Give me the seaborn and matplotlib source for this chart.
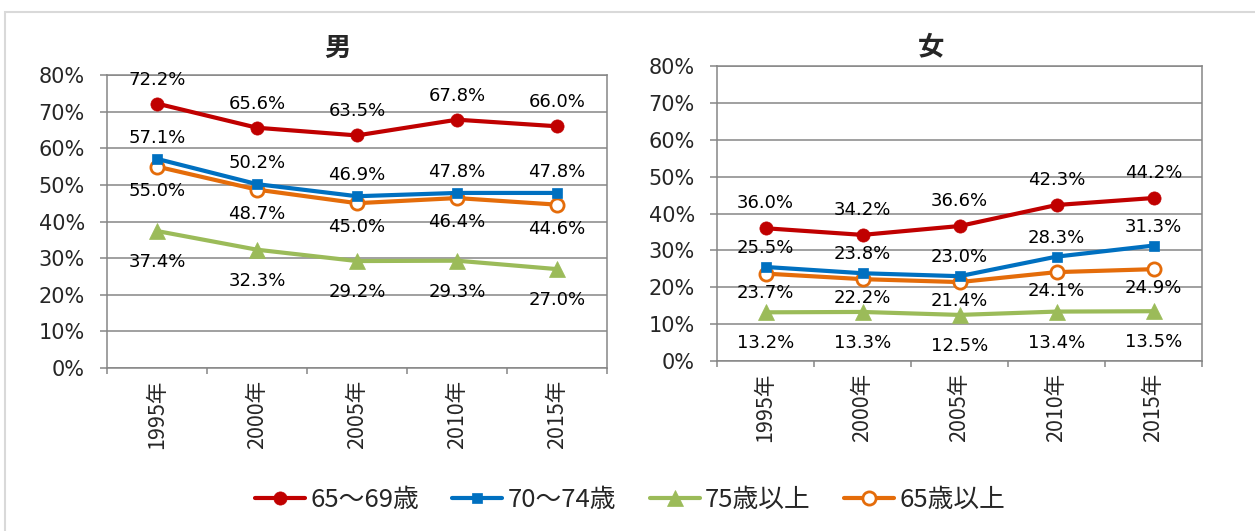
import numpy as np
import pandas as pd
import matplotlib
matplotlib.use("Agg")
import matplotlib.pyplot as plt
import seaborn as sns
from matplotlib.patches import Rectangle
from matplotlib.ticker import FuncFormatter, FixedLocator

# ---- data ----
years = ['1995年', '2000年', '2005年', '2010年', '2015年']
series_names = ['65～69歳', '70～74歳', '75歳以上', '65歳以上']
male_65_69 = [72.2, 65.6, 63.5, 67.8, 66.0]
male_70_74 = [57.1, 50.2, 46.9, 47.8, 47.8]
male_75plus = [37.4, 32.3, 29.2, 29.3, 27.0]
male_65plus = [55.0, 48.7, 45.0, 46.4, 44.6]
female_65_69 = [36.0, 34.2, 36.6, 42.3, 44.2]
female_70_74 = [25.5, 23.8, 23.0, 28.3, 31.3]
female_75plus = [13.2, 13.3, 12.5, 13.4, 13.5]
female_65plus = [23.7, 22.2, 21.4, 24.1, 24.9]
panel_titles = ['男', '女']

sns.set_theme(style='white')
plt.rcParams['font.family'] = ['Noto Sans CJK JP', 'DejaVu Sans']

colors = ['#C00000', '#0070C0', '#9BBB59', '#E46C0A']
markers = ['o', 's', '^', 'o']
msizes = [9.5, 7.5, 11, 9.5]
grid_c = '#868686'
num_font = ['DejaVu Sans']

fig = plt.figure(figsize=(12.55, 5.31), dpi=100)
W, H = 1255, 531
ax_m = fig.add_axes([107 / W, 1 - 368 / H, 500 / W, 293 / H])
ax_f = fig.add_axes([717 / W, 1 - 361 / H, 485 / W, 295 / H])

# outer border
fig.patches.append(Rectangle((5 / W, -0.1), 1.2, (1 - 12 / H) + 0.1, transform=fig.transFigure,
                             fill=False, edgecolor='#D9D9D9', linewidth=1.5, clip_on=False))

# label offsets (px) per series: 65-69, 70-74, 75+, 65+
panels = [
    (ax_m, [male_65_69, male_70_74, male_75plus, male_65plus], [24, 21, -31, -24]),
    (ax_f, [female_65_69, female_70_74, female_75plus, female_65plus], [25, 19, -31, -19]),
]

pos = np.arange(len(years))
for ax, data, offs in panels:
    for i, vals in enumerate(data):
        df = pd.DataFrame({'x': pos, 'y': vals})
        kw = dict(marker=markers[i], markersize=msizes[i], color=colors[i], linewidth=3.0,
                  markeredgecolor=colors[i])
        if i == 3:
            kw.update(markerfacecolor='white', markeredgewidth=2.0)
        else:
            kw.update(markerfacecolor=colors[i], markeredgewidth=0.5)
        sns.lineplot(data=df, x='x', y='y', ax=ax, label=series_names[i], zorder=3 + (4 - i) * 0.1, **kw)
        for xv, yv in zip(pos, vals):
            ax.annotate(f'{yv:.1f}%', (xv, yv), xytext=(0, offs[i] * 0.72), textcoords='offset points',
                        ha='center', va='center', fontsize=13, color='black', zorder=6,
                        family=num_font)
    ax.set_xlim(-0.5, len(years) - 0.5)
    ax.set_ylim(0, 80)
    ax.set_yticks(np.arange(0, 81, 10))
    ax.yaxis.set_major_formatter(FuncFormatter(lambda v, p: f'{v:.0f}%'))
    ax.set_xticks(pos)
    ax.set_xticklabels(years, rotation=90, fontsize=15.5)
    ax.xaxis.set_minor_locator(FixedLocator(np.arange(-0.5, len(years), 1.0)))
    ax.tick_params(axis='x', which='major', length=0, pad=8.5)
    ax.tick_params(axis='x', which='minor', length=4.5, width=1.1, color=grid_c, direction='out', bottom=True)
    ax.tick_params(axis='y', length=5, width=1.1, color=grid_c, direction='out', left=True, labelsize=15, pad=11)
    for lab in ax.get_yticklabels():
        lab.set_family(num_font)
    ax.grid(axis='y', color=grid_c, linewidth=1.1)
    ax.set_axisbelow(True)
    for s in ax.spines.values():
        s.set_visible(True)
        s.set_color(grid_c)
        s.set_linewidth(1.1)
    ax.set_xlabel('')
    ax.set_ylabel('')

handles, labels = ax_m.get_legend_handles_labels()
ax_m.get_legend().remove()
ax_f.get_legend().remove()

fig.text(337 / W, 1 - 48 / H, panel_titles[0], ha='center', va='center', fontsize=19, fontweight='bold')
fig.text(931 / W, 1 - 47 / H, panel_titles[1], ha='center', va='center', fontsize=19, fontweight='bold')

fig.legend(handles, labels, loc='center', bbox_to_anchor=(630 / W, 1 - 500 / H), ncol=4, frameon=False,
           fontsize=18.5, handlelength=1.95, columnspacing=1.3, handletextpad=0.2)

fig.savefig('out.png', dpi=100, facecolor='white')
